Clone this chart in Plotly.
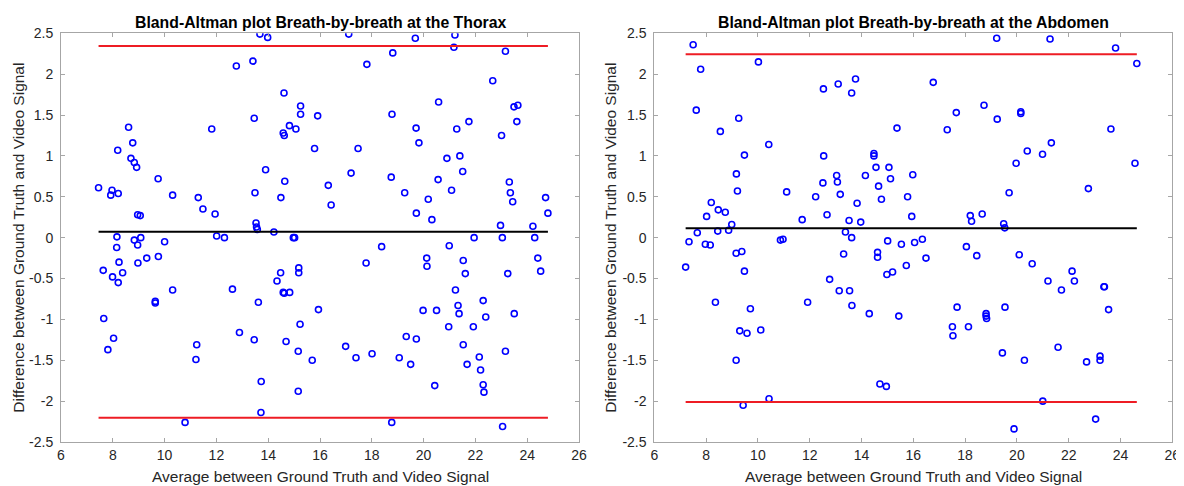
import plotly.graph_objects as go

# ---------------- data ----------------
thorax_avg = [7.45, 7.97, 7.92, 8.21, 8.19, 8.61, 8.77, 8.70, 8.83, 8.92, 8.96, 9.06, 9.75, 10.31, 11.30, 11.48,
              11.95, 11.82, 12.77, 13.41, 13.68, 13.98, 13.46, 14.61, 14.58, 14.62, 14.82, 15.07, 13.90, 14.64,
              13.49, 14.49, 13.53, 13.55, 13.58, 14.22, 8.16, 12.01, 12.31, 14.97,
              15.25, 15.25, 15.91, 15.79, 16.32, 16.43, 17.11, 17.81, 17.47, 17.20, 18.81, 18.78, 18.75, 19.27,
              19.68, 19.71, 19.82, 19.72, 20.18, 20.32, 20.58, 20.90, 20.56, 21.08, 21.21, 21.17, 21.28, 21.40,
              21.51, 21.75, 22.67, 23.16, 23.01, 23.49, 23.64, 23.60, 23.31, 23.35, 23.44, 22.97, 24.22, 24.71,
              24.80, 15.02, 21.95, 23.04, 24.29, 18.38, 20.99,
              7.63, 7.99, 8.21, 8.15, 8.24, 8.38, 8.83, 8.96, 9.08, 8.97, 9.31, 9.76, 10.00, 10.31, 9.64, 9.64,
              7.65, 8.03, 7.81, 10.79, 11.24, 11.21, 12.62, 12.89, 13.46, 13.62, 13.73, 13.72, 14.48, 14.34,
              14.58, 14.62, 14.83, 14.69, 15.18, 15.18, 15.23, 15.16, 15.16,
              15.94, 15.70, 17.78, 16.99, 17.39, 18.01, 18.77, 19.06, 19.33, 19.50, 19.72, 20.12, 20.13, 19.98,
              20.50, 20.43, 21.23, 20.97, 21.33, 21.37, 21.53, 21.61, 21.53, 21.92, 21.68, 22.15, 22.20, 22.30,
              22.30, 22.33, 22.40, 23.05, 23.25, 23.16, 23.50, 24.41, 24.52]
thorax_diff = [0.61, 0.58, 0.52, 0.54, 1.07, 1.35, 1.16, 0.97, 0.92, 0.86, 0.28, 0.27, 0.72, 0.52, 0.49, 0.35,
               0.29, 1.33, 2.10, 2.16, 2.49, 2.45, 1.46, 1.77, 1.28, 1.25, 1.37, 1.33, 0.83, 0.69,
               0.55, 0.49, 0.18, 0.13, 0.10, 0.07, 0.01, 0.02, 0.00, 0.00,
               1.61, 1.51, 1.49, 1.09, 0.64, 0.40, 2.49, 2.12, 1.09, 0.79, 2.26, 1.51, 0.74, 0.55,
               2.44, 1.34, 1.16, 0.30, 0.47, 0.22, 1.66, 0.97, 0.71, 0.58, 2.48, 2.33, 1.33, 1.00,
               0.81, 1.42, 1.92, 2.28, 1.25, 1.60, 1.62, 1.42, 0.68, 0.55, 0.44, 0.15, 0.14, 0.49,
               0.30, 0.00, 0.00, 0.00, 0.00, -0.11, -0.10,
               -0.40, -0.48, -0.55, -0.12, -0.30, -0.43, -0.03, -0.09, 0.00, -0.31, -0.25, -0.23, -0.05, -0.64,
               -0.78, -0.80, -0.99, -1.23, -1.37, -2.26, -1.31, -1.49, -0.63, -1.16, -1.25, -0.79, -1.76, -2.14,
               -0.43, -0.53, -0.67, -0.68, -0.67, -1.27, -0.37, -0.43, -1.06, -1.39, -1.88,
               -0.88, -1.50, -0.31, -1.33, -1.47, -1.42, -2.26, -1.47, -1.21, -1.55, -1.24, -0.25, -0.35, -0.89,
               -0.89, -1.81, -0.64, -1.09, -0.83, -0.93, -0.28, -0.44, -1.31, -1.09, -1.55, -1.46, -1.62, -0.77,
               -1.80, -1.89, -0.97, -2.31, -0.44, -1.39, -0.93, -0.25, -0.41]
thorax_mean = 0.073
thorax_upper = 2.345
thorax_lower = -2.203

abdomen_avg = [7.50, 7.79, 7.62, 8.55, 9.26, 9.48, 9.17, 9.21, 8.20, 8.47, 8.74, 8.02, 8.99, 8.87, 8.45, 7.66,
               7.34, 7.97, 8.16, 10.02, 10.42, 11.11, 10.87, 10.97, 11.71, 12.23, 12.53, 13.10, 13.62, 13.77,
               12.54, 12.51, 12.67, 13.04, 13.07, 13.18, 13.83, 14.15, 13.52, 13.97, 13.38, 13.62, 14.48, 14.48,
               14.56, 14.66, 14.77, 15.01, 15.06, 15.12,
               15.37, 15.98, 15.78, 15.94, 15.54, 16.05, 16.35, 16.77, 17.31, 17.66, 18.20, 18.25, 18.66, 18.05,
               18.73, 19.24, 19.22, 20.15, 20.15, 19.49, 19.53, 19.70, 19.97, 20.40, 20.99, 21.33, 21.28, 22.76,
               23.63, 23.81, 24.56, 24.63,
               7.21, 8.36, 9.16, 9.38, 9.48, 9.71, 9.30, 9.58, 10.11, 9.16, 9.43, 10.43, 11.92, 12.77, 13.14,
               13.54, 13.31, 13.63, 14.30, 14.62, 14.62, 14.98, 14.71, 14.96,
               15.20, 15.73, 16.49, 15.44, 18.45, 17.69, 17.51, 17.53, 18.13, 18.81, 18.81, 18.83, 19.54, 19.44,
               20.29, 19.89, 20.09, 20.59, 21.20, 21.72, 22.13, 22.22, 21.59, 21.00, 22.69, 23.21, 23.21, 23.04,
               23.36, 23.38, 23.54]
abdomen_diff = [2.36, 2.06, 1.56, 1.30, 1.46, 1.01, 0.78, 0.57, 0.43, 0.34, 0.31, 0.26, 0.16, 0.09, 0.08, 0.06,
                -0.05, -0.08, -0.09, 2.15, 1.14, 0.56, -0.03, -0.02, 0.22, 0.50, 1.82, 1.88, 1.77, 1.94,
                1.00, 0.67, 0.28, 0.76, 0.68, 0.53, 0.42, 0.76, 0.21, 0.19, 0.07, 0.00, 1.03, 1.00,
                0.86, 0.63, 0.47, -0.04, 0.86, 0.72,
                1.34, 0.77, 0.50, 0.26, -0.08, -0.06, -0.02, 1.90, 1.32, 1.53, 0.27, 0.20, 0.29, -0.11,
                1.62, 1.45, 2.44, 1.54, 1.52, 0.17, 0.12, 0.55, 0.91, 1.06, 1.02, 1.16, 2.43, 0.60,
                1.33, 2.32, 0.91, 2.13,
                -0.36, -0.79, -0.19, -0.17, -0.41, -0.87, -1.14, -1.17, -1.13, -1.50, -2.05, -1.97, -0.79, -0.51, -0.65,
                -0.65, -0.20, -0.83, -0.93, -0.18, -0.24, -0.45, -1.79, -1.82,
                -0.42, -0.34, -0.25, -0.96, -0.22, -0.85, -1.09, -1.20, -1.09, -0.93, -0.96, -0.99, -0.85, -1.41,
                -1.50, -2.34, -0.21, -0.32, -0.53, -0.64, -0.41, -0.53, -1.34, -2.00, -1.52, -1.45, -1.50, -2.22,
                -0.60, -0.60, -0.88]
abdomen_mean = 0.114
abdomen_upper = 2.243
abdomen_lower = -2.011

titles = ["Bland-Altman plot Breath-by-breath at the Thorax",
          "Bland-Altman plot Breath-by-breath at the Abdomen"]
xlabel = "Average between Ground Truth and Video Signal"
ylabel = "Difference between Ground Truth and Video Signal"
x_ticks = [6, 8, 10, 12, 14, 16, 18, 20, 22, 24, 26]
x_ticktext = ["6", "8", "10", "12", "14", "16", "18", "20", "22", "24", "26"]
y_ticks = [-2.5, -2, -1.5, -1, -0.5, 0, 0.5, 1, 1.5, 2, 2.5]
y_ticktext = ["-2.5", "-2", "-1.5", "-1", "-0.5", "0", "0.5", "1", "1.5", "2", "2.5"]

# ---------------- figure ----------------
OFF = 8  # page body margin
W, H = 1184 - OFF, 486 - OFF
FONT = "Liberation Sans, Arial, Helvetica, sans-serif"
BLUE = "#0000ff"
RED = "#ee1c24"


def fx(px):
    return (px - OFF) / W


def fy(py):
    return 1 - (py - OFF) / H


fig = go.Figure()

panels = [
    (thorax_avg, thorax_diff, thorax_mean, thorax_upper, thorax_lower, "x", "y"),
    (abdomen_avg, abdomen_diff, abdomen_mean, abdomen_upper, abdomen_lower, "x2", "y2"),
]
for avg, diff, m, up, lo, xa, ya in panels:
    fig.add_trace(go.Scatter(x=avg, y=diff, mode="markers", xaxis=xa, yaxis=ya,
                             marker=dict(symbol="circle-open", size=6, color=BLUE,
                                         line=dict(width=1.6, color=BLUE)),
                             showlegend=False, hoverinfo="x+y"))
    x0, x1 = min(avg), max(avg)
    for val, col in [(m, "black"), (up, RED), (lo, RED)]:
        fig.add_trace(go.Scatter(x=[x0, x1], y=[val, val], mode="lines", xaxis=xa, yaxis=ya,
                                 line=dict(color=col, width=2), showlegend=False, hoverinfo="skip"))

ax_px = [(61, 579), (654.3, 1172.3)]
y_top, y_bot = 33.3, 442.0
ydom = [fy(y_bot), fy(y_top)]

common_x = dict(range=[6, 26], tickmode="array", tickvals=x_ticks, ticktext=x_ticktext,
                showgrid=False, zeroline=False, showline=True, linecolor="#a6a6a6", linewidth=1,
                mirror="allticks", ticks="inside", ticklen=4, tickcolor="#a6a6a6", automargin=False,
                tickfont=dict(family=FONT, size=14, color="#262626"))
common_y = dict(range=[-2.5, 2.5], tickmode="array", tickvals=y_ticks, ticktext=y_ticktext,
                showgrid=False, zeroline=False, showline=True, linecolor="#a6a6a6", linewidth=1,
                mirror="allticks", ticks="inside", ticklen=4, tickcolor="#a6a6a6", automargin=False,
                ticklabelstandoff=4,
                tickfont=dict(family=FONT, size=14, color="#262626"))

fig.update_layout(
    width=W, height=H,
    margin=dict(l=0, r=0, t=0, b=0, pad=0, autoexpand=False),
    paper_bgcolor="white", plot_bgcolor="white",
    xaxis=dict(domain=[fx(ax_px[0][0]), fx(ax_px[0][1])], anchor="y", **common_x),
    yaxis=dict(domain=ydom, anchor="x", **common_y),
    xaxis2=dict(domain=[fx(ax_px[1][0]), fx(ax_px[1][1])], anchor="y2", **common_x),
    yaxis2=dict(domain=ydom, anchor="x2", **common_y),
)

anns = []
for i, (l, r) in enumerate(ax_px):
    cx = fx((l + r) / 2)
    anns.append(dict(text="<b>" + titles[i] + "</b>", x=cx, y=fy(22), xref="paper", yref="paper",
                     xanchor="center", yanchor="middle", showarrow=False,
                     font=dict(family=FONT, size=15.8, color="black")))
    anns.append(dict(text=xlabel, x=cx, y=fy(476), xref="paper", yref="paper",
                     xanchor="center", yanchor="middle", showarrow=False,
                     font=dict(family=FONT, size=15.5, color="#262626")))
    ylx = [19, 611][i]
    anns.append(dict(text=ylabel, x=fx(ylx), y=fy(237.7), xref="paper", yref="paper",
                     xanchor="center", yanchor="middle", showarrow=False, textangle=-90,
                     font=dict(family=FONT, size=15.5, color="#262626")))
fig.update_layout(annotations=anns)

fig.write_html("out.html", config={"displayModeBar": False})
